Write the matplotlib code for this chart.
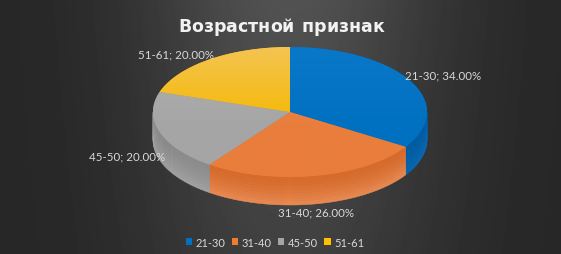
import numpy as np
import matplotlib.pyplot as plt
from matplotlib.patches import Polygon, Patch
from matplotlib.colors import to_rgb

# data
age_groups = ['21-30', '31-40', '45-50', '51-61']
shares = [34, 26, 20, 20]
title = 'Возрастной признак'

top_colors = ['#0070c0', '#e97d3c', '#a5a5a5', '#f5b800']
top_light = ['#0a78c8', '#ec8a50', '#b0b0b0', '#f4c451']
side_colors = ['#005ea6', '#d96c2b', '#8e8e8e', '#d9a300']
side_light = ['#0868b4', '#ea8a52', '#a2a2a2', '#e8b420']
legend_colors = ['#0070c0', '#ed7d31', '#a5a5a5', '#ffc000']

W, H = 561, 255
cx, cy, rx, ry, depth = 290, 113, 137, 65, 28

fig = plt.figure(figsize=(W / 100, H / 100), dpi=100)
ax = fig.add_axes([0, 0, 1, 1])
ax.set_xlim(0, W)
ax.set_ylim(H, 0)
ax.axis('off')

# background: dark with lighter centre band
xx, yy = np.meshgrid(np.arange(W), np.arange(H))
bg = 0.15 + 0.17 * np.exp(-((xx - 290) / 150.0) ** 2) * (1 - 0.4 * yy / H)
ax.imshow(bg, extent=(0, W, H, 0), cmap='gray', vmin=0, vmax=1,
          aspect='auto', zorder=0, interpolation='bilinear')


def arc(a1, a2, n=120):
    t = np.radians(np.linspace(a1, a2, n))
    return cx + rx * np.cos(t), cy - ry * np.sin(t)


total = float(sum(shares))
bounds = 90 - 360 * np.cumsum([0] + shares) / total

# side walls (front half only)
nstrip = 14
for i in range(len(shares)):
    a_start, a_end = bounds[i], bounds[i + 1]
    hi = min(a_start, 0)
    lo = max(a_end, -180)
    if hi <= lo:
        continue
    x, y = arc(hi, lo)
    c0 = np.array(to_rgb(side_colors[i]))
    c1 = np.array(to_rgb(side_light[i]))
    for k in range(nstrip):
        z0 = depth * k / nstrip
        z1 = depth * (k + 1) / nstrip
        f = (k / (nstrip - 1)) ** 1.5
        col = c0 + (c1 - c0) * f
        pts = np.column_stack([np.r_[x, x[::-1]], np.r_[y + z0, y[::-1] + z1]])
        ax.add_patch(Polygon(pts, closed=True, facecolor=col, edgecolor=col,
                             lw=0.4, zorder=2))

# top faces with a soft vertical gradient
for i in range(len(shares)):
    a_start, a_end = bounds[i], bounds[i + 1]
    x, y = arc(a_start, a_end)
    pts = np.column_stack([np.r_[cx, x], np.r_[cy, y]])
    poly = Polygon(pts, closed=True, facecolor=top_colors[i],
                   edgecolor='none', zorder=3)
    ax.add_patch(poly)
    c0 = np.array(to_rgb(top_light[i]))
    c1 = np.array(to_rgb(top_colors[i]))
    g = np.linspace(0, 1, 100)[:, None, None]
    grad = c0 + (c1 - c0) * np.clip(g * 1.6, 0, 1)
    im = ax.imshow(grad, extent=(cx - rx, cx + rx, cy + ry, cy - ry),
                   aspect='auto', zorder=4, interpolation='bilinear')
    im.set_clip_path(poly)

# data labels
label_font = dict(family='Lato', size=8.3, color='#d9d9d9', zorder=6)
for i in range(len(shares)):
    mid = np.radians((bounds[i] + bounds[i + 1]) / 2)
    c, s = np.cos(mid), np.sin(mid)
    lx = cx + rx * c
    ly = cy - ry * s
    if s < 0:
        ly += depth
    ha = 'left' if c > 0.3 else ('right' if c < -0.3 else 'center')
    va = 'bottom' if s > 0.3 else ('top' if s < -0.3 else 'center')
    if ha == 'left':
        lx -= 5
    if ha == 'right':
        lx += 5
    if va == 'top':
        ly += 3
    if s < 0 and ha != 'center':
        ly -= 13
    ax.text(lx, ly, '{}; {:.2f}%'.format(age_groups[i], shares[i]),
            ha=ha, va=va, **label_font)

# title with letter spacing, drawn char by char
renderer = fig.canvas.get_renderer()
title_font = dict(family='DejaVu Sans', weight='bold', size=12.5, color='#f2f2f2')
spacing = 0.0
widths = []
for ch in title:
    t = ax.text(0, 0, ch if ch != ' ' else 'n', **title_font)
    widths.append(t.get_window_extent(renderer).width * (0.6 if ch == ' ' else 1))
    t.remove()
total_w = sum(widths) + spacing * (len(title) - 1)
x0 = 281 - total_w / 2
for ch, w in zip(title, widths):
    if ch != ' ':
        ax.text(x0, 27, ch, ha='left', va='center', zorder=6, **title_font)
    x0 += w + spacing

handles = [Patch(facecolor=c, edgecolor='none') for c in legend_colors]
leg = ax.legend(handles, age_groups, loc='center', ncol=4, frameon=False,
                bbox_to_anchor=(0.49, 0.047), prop={'family': 'Lato', 'size': 8},
                handlelength=0.6, handleheight=0.6, handletextpad=0.3,
                columnspacing=0.55, borderaxespad=0)
for t in leg.get_texts():
    t.set_color('#d9d9d9')

fig.savefig('out.png', dpi=100)
